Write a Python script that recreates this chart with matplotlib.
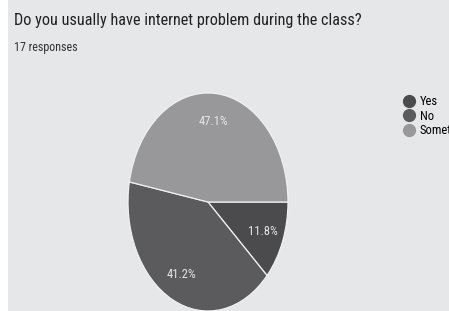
import matplotlib
matplotlib.use("Agg")
import matplotlib.pyplot as plt
from matplotlib import font_manager
from matplotlib.lines import Line2D

# data
labels = ["Yes", "No", "Sometimes"]
values = [11.8, 41.2, 47.1]
colors = ["#4b4b4d", "#5b5b5d", "#98989a"]
title = "Do you usually have internet problem during the class?"
subtitle = "17 responses"

# prefer a condensed face if one is installed
names = sorted({f.name for f in font_manager.fontManager.ttflist})
face = "Roboto"
for cand in ["Roboto Condensed", "Liberation Sans Narrow", "Open Sans Condensed"]:
    if cand in names:
        face = cand
        break
plt.rcParams["font.family"] = [face, "DejaVu Sans"]

W, H = 449, 311
fig = plt.figure(figsize=(W / 100, H / 100), dpi=100)
fig.patch.set_facecolor("white")

# gray panel, white strip on the left
bg = fig.add_axes([8 / W, 0, 1 - 8 / W, 1], zorder=-1)
bg.set_facecolor("#e6e7e9")
bg.set_xticks([])
bg.set_yticks([])
for s in bg.spines.values():
    s.set_visible(False)

t1 = fig.text(14 / W, 1 - 20 / H, title, fontsize=13, color="#222222", va="center", ha="left")
t2 = fig.text(14 / W, 1 - 47 / H, subtitle, fontsize=9, color="#333333", va="center", ha="left")

# shrink texts to the widths seen in the reference
r = fig.canvas.get_renderer()
for t, target in [(t1, 348), (t2, 64)]:
    w = t.get_window_extent(r).width
    t.set_fontsize(t.get_fontsize() * target / w)

# pie axes (stretched ellipse)
ax = fig.add_axes([128 / W, 0, 160 / W, 218 / H], zorder=1)
ax.set_facecolor("none")
wedges, texts, autotexts = ax.pie(
    values, colors=colors, startangle=0, counterclock=False,
    autopct="%.1f%%", pctdistance=0.74,
    wedgeprops=dict(edgecolor="#f0f0f0", linewidth=0.9),
    textprops=dict(color="#e4e4e4", fontsize=9),
)
ax.set_aspect("auto")
ax.set_xlim(-1, 1)
ax.set_ylim(-1, 1)
ax.axis("off")

# legend
handles = [Line2D([0], [0], marker="o", linestyle="none", markersize=8.5,
                  markerfacecolor=c, markeredgecolor=c) for c in colors]
leg = fig.legend(handles, labels, loc="upper left", bbox_to_anchor=(393 / W, 1 - 89 / H),
                 frameon=False, fontsize=9, handletextpad=0.15, labelspacing=0.12,
                 handlelength=1.5, borderpad=0)

fig.savefig("out.png", dpi=100)
